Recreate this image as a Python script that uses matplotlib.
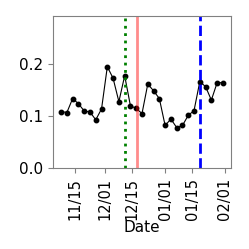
import matplotlib
matplotlib.use("Agg")
import matplotlib.pyplot as plt
import matplotlib.dates as mdates
import numpy as np
import pandas as pd

dates = pd.date_range("2023-11-08", periods=29, freq="3D")
values = [0.109, 0.107, 0.134, 0.124, 0.110, 0.108, 0.093, 0.114, 0.1955, 0.173,
          0.128, 0.178, 0.120, 0.115, 0.105, 0.162, 0.149, 0.134, 0.082, 0.0945,
          0.078, 0.082, 0.1016, 0.1106, 0.1666, 0.157, 0.131, 0.1646, 0.1646]
green_date = pd.Timestamp("2023-12-11")
red_date = pd.Timestamp("2023-12-17 12:00")
blue_date = pd.Timestamp("2024-01-19")
tick_dates = pd.to_datetime(["2023-11-15", "2023-12-01", "2023-12-15",
                             "2024-01-01", "2024-01-15", "2024-02-01"])

fig = plt.figure(figsize=(2.49, 2.49), dpi=100)
ax = fig.add_axes([53/249, 1-168/249, (231-53)/249, (168-16)/249])
ax.plot(dates, values, color="black", lw=0.8, marker="o", markersize=3.2)
ax.axvline(green_date, color="green", ls=":", lw=2)
ax.axvline(red_date, color="red", alpha=0.45, lw=2)
ax.axvline(blue_date, color="blue", ls="--", lw=2)
ax.set_ylim(0, max(values) * 1.5)
ax.set_yticks([0.0, 0.1, 0.2])
ax.set_xticks(tick_dates)
ax.xaxis.set_major_formatter(mdates.DateFormatter("%m/%d"))
ax.tick_params(axis="x", labelrotation=90, labelsize=10.5, color="grey")
ax.tick_params(axis="y", labelsize=11, color="grey")
for s in ax.spines.values():
    s.set_color("grey")
ax.set_xlabel("Date", fontsize=11, labelpad=0)
fig.savefig("out.png", dpi=100)
